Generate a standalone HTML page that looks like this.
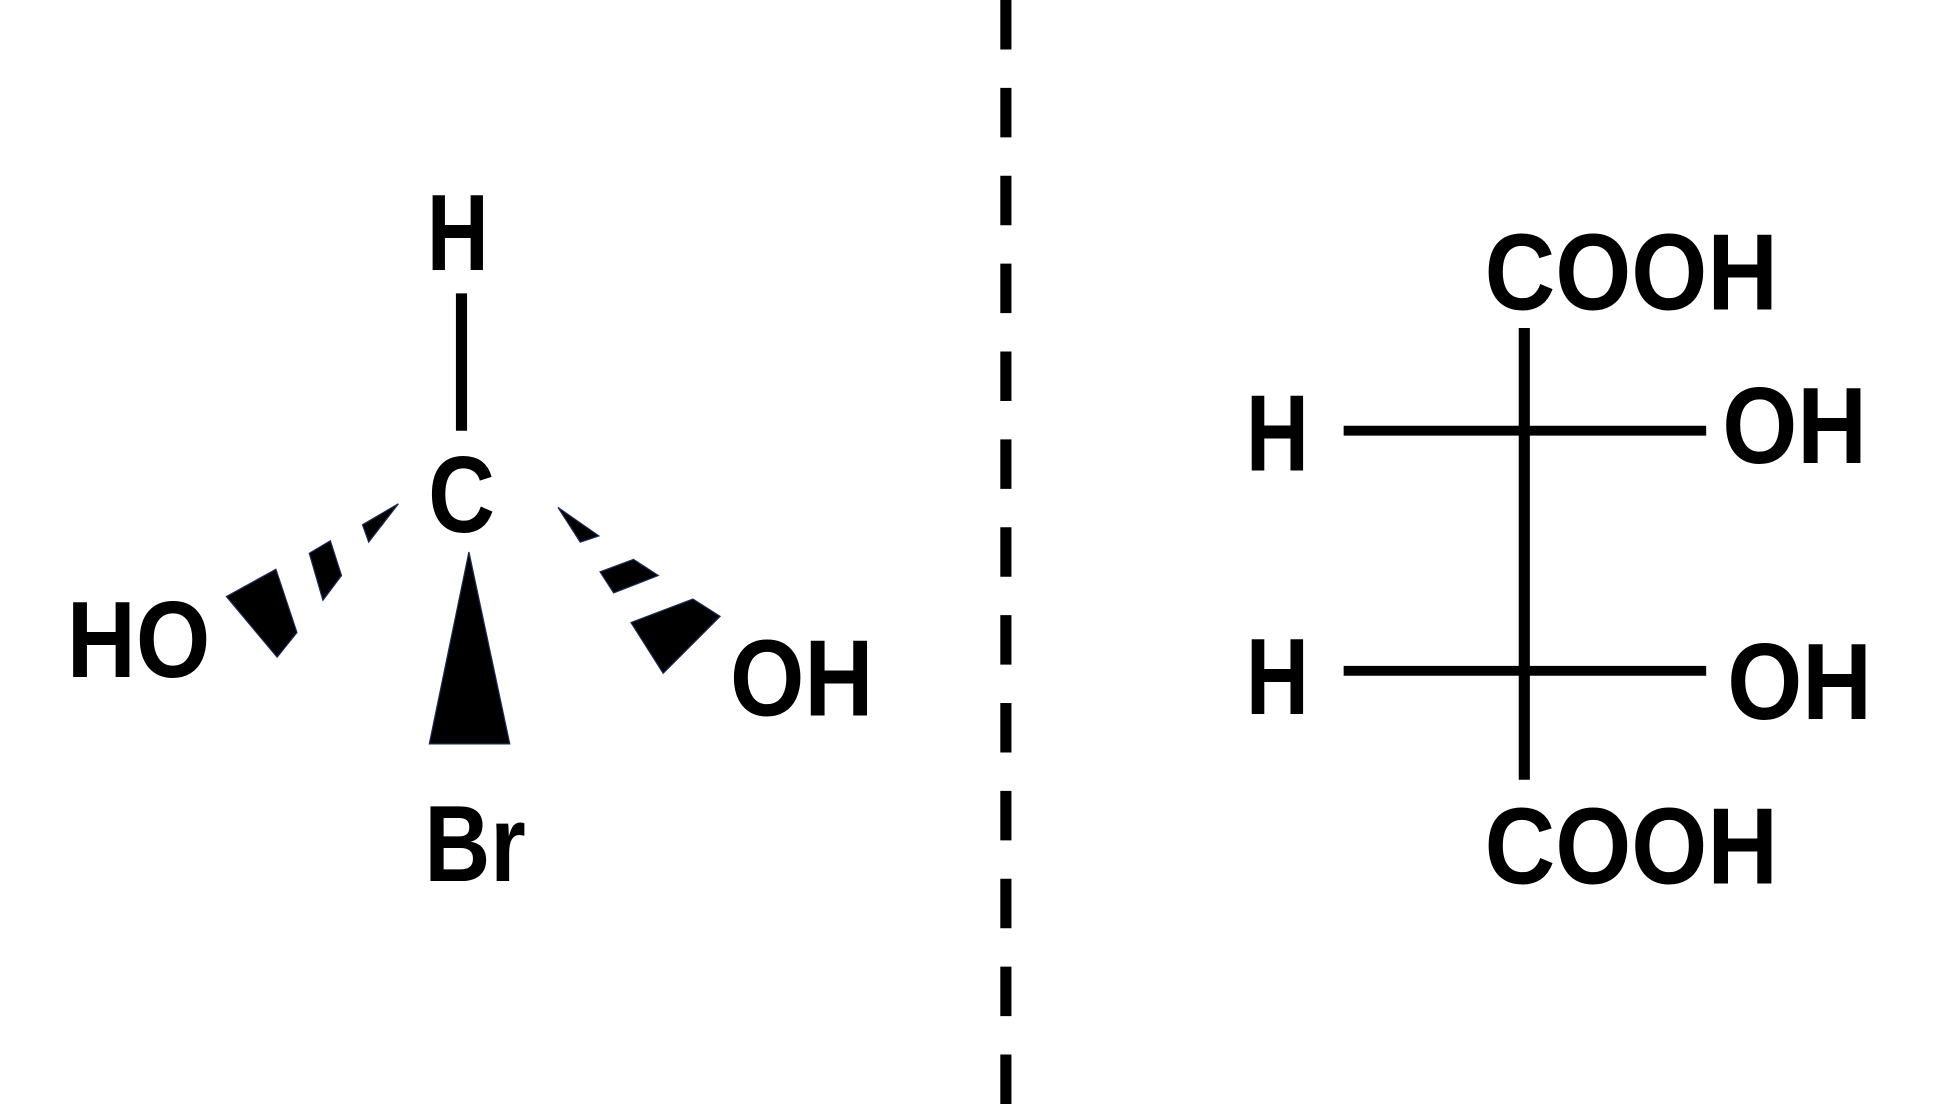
<!DOCTYPE html>
<html><head><style>html,body{margin:0;padding:0;background:#fff;}svg{display:block;}</style></head>
<body>
<svg width="1940" height="1104" viewBox="0 0 1568 892" preserveAspectRatio="none" xmlns="http://www.w3.org/2000/svg">
<g font-family="Liberation Sans, Arial, sans-serif" font-weight="bold" font-size="88" fill="#000">
<text x="345" y="218" textLength="50" lengthAdjust="spacingAndGlyphs">H</text>
<text x="346" y="430" textLength="54" lengthAdjust="spacingAndGlyphs">C</text>
<text x="54" y="547" textLength="116" lengthAdjust="spacingAndGlyphs">HO</text>
<text x="590" y="578" textLength="116" lengthAdjust="spacingAndGlyphs">OH</text>
<text x="343" y="712" textLength="82" lengthAdjust="spacingAndGlyphs">Br</text>
<text x="1200" y="250" textLength="237" lengthAdjust="spacingAndGlyphs">COOH</text>
<text x="1007" y="380" textLength="51" lengthAdjust="spacingAndGlyphs">H</text>
<text x="1392" y="374" textLength="117" lengthAdjust="spacingAndGlyphs">OH</text>
<text x="1007" y="577" textLength="51" lengthAdjust="spacingAndGlyphs">H</text>
<text x="1396" y="581" textLength="117" lengthAdjust="spacingAndGlyphs">OH</text>
<text x="1200" y="714" textLength="237" lengthAdjust="spacingAndGlyphs">COOH</text>
</g>
<g stroke="#000" stroke-width="9" fill="none">
<line x1="373" y1="237" x2="373" y2="348"/>
<line x1="813" y1="0" x2="813" y2="892" stroke-dasharray="40 31"/>
<line x1="1232" y1="265" x2="1232" y2="630"/>
<line x1="1086" y1="348" x2="1379" y2="348" stroke-width="8"/>
<line x1="1086" y1="542" x2="1379" y2="542" stroke-width="8"/>
</g>
<g fill="#000" stroke="#1a2a55" stroke-width="1">
<polygon points="379,446 347,601 412,601"/>
<polygon points="322,407 298,438 293,424"/>
<polygon points="267,437 276,465 261,485 250,447"/>
<polygon points="223,460 240,511 224,531 183,482"/>
<polygon points="451,410 484,433 469,438"/>
<polygon points="512,452 532,465 496,479 485,462"/>
<polygon points="560,484 582,498 536,544 510,503"/>
</g>
</svg>
</body></html>
